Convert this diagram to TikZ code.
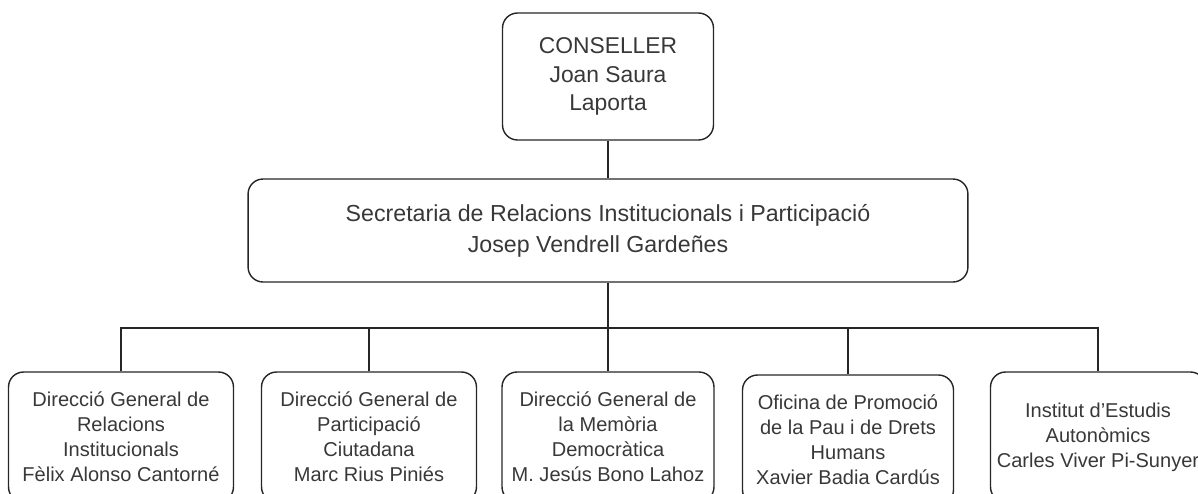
\documentclass[tikz,border=0pt]{standalone}
\usepackage{fontspec}
\setmainfont{Liberation Sans}
\begin{document}
\begin{tikzpicture}[x=0.02cm,y=-0.02cm,line width=0.8pt,draw=black!85]
        \tikzstyle{orgbox}=[rectangle, draw, rounded corners=0.3cm, align=center, inner sep=0pt, text=black!78]
        \tikzstyle{unitbox}=[orgbox, minimum width=4.3cm, minimum height=2.6cm, font=\fontsize{11.4}{14.2}\selectfont]
        \useasboundingbox (0,0) rectangle (1198,494);
        \clip (0,0) rectangle (1198,494);
        \node[orgbox, minimum width=4.22cm, minimum height=2.54cm, font=\fontsize{13}{16}\selectfont] (cons) at (608,76.5) {CONSELLER\\Joan Saura\\Laporta};
        \node[orgbox, minimum width=14.4cm, minimum height=2.06cm, font=\fontsize{13.2}{17.6}\selectfont] (secr) at (608,230.5) {Secretaria de Relacions Institucionals i Participació\\Josep Vendrell Gardeñes\hspace*{0.4cm}};
        \node[unitbox, minimum width=4.5cm] (u1) at (121,437) {Direcció General de\\Relacions\\Institucionals\\Fèlix Alonso Cantorné};
        \node[unitbox] (u2) at (369,437) {Direcció General de\\Participació\\Ciutadana\\Marc Rius Piniés};
        \node[unitbox, minimum width=4.24cm] (u3) at (608,437) {Direcció General de\\la Memòria\\Democràtica\\M. Jesús Bono Lahoz};
        \node[unitbox, minimum width=4.22cm] (u4) at (848,440) {Oficina de Promoció\\de la Pau i de Drets\\Humans\\Xavier Badia Cardús};
        \node[unitbox] (u5) at (1098,437) {Institut d’Estudis\\Autonòmics\\Carles Viver Pi-Sunyer};
        \coordinate (bus) at (608,328);
        \draw (cons.south) -- (secr.north);
        \draw (secr.south) -- (bus);
        \draw (u1.north) |- (bus) -| (u5.north);
        \foreach \i in {2,3,4}
            \draw (u\i.north) -- (u\i.north |- bus);
\end{tikzpicture}
\end{document}
